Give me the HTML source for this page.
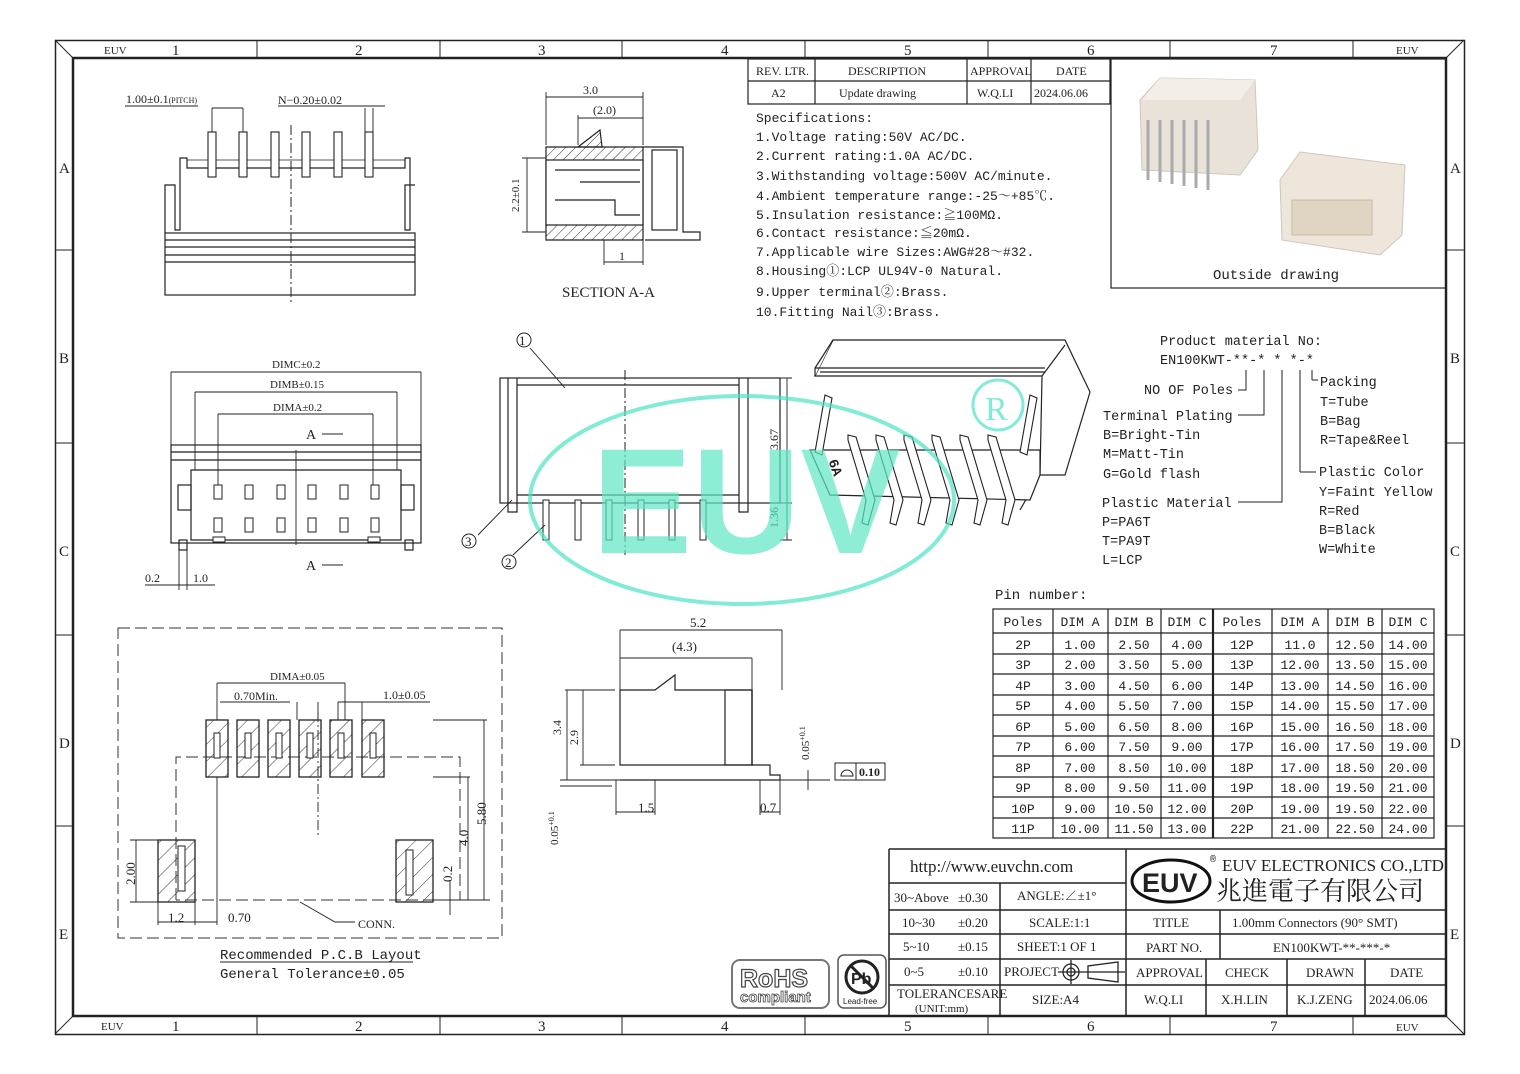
<!DOCTYPE html>
<html><head><meta charset="utf-8"><style>
html,body{margin:0;padding:0;background:#fff}
svg{display:block}
text{font-family:"Liberation Mono","Noto Serif CJK SC",monospace;fill:#222}
.s{font-family:"Liberation Serif","Noto Serif CJK SC",serif}
</style></head><body>
<svg width="1520" height="1074" viewBox="0 0 1520 1074" xmlns="http://www.w3.org/2000/svg">
<defs>
<pattern id="h" width="7" height="7" patternUnits="userSpaceOnUse" patternTransform="rotate(45)"><line x1="0" y1="0" x2="0" y2="7" stroke="#333" stroke-width="1"/></pattern>
<pattern id="h2" width="12" height="12" patternUnits="userSpaceOnUse" patternTransform="rotate(45)"><line x1="0" y1="0" x2="0" y2="12" stroke="#333" stroke-width="1"/></pattern>
</defs>
<rect width="1520" height="1074" fill="#fff"/>
<g fill="none" stroke="#222">
<rect x="55.5" y="40.5" width="1409" height="994" stroke-width="1.5"/>
<rect x="73" y="58" width="1373" height="958" stroke-width="2.5"/>
<line x1="55" y1="40" x2="73" y2="58"/><line x1="1464" y1="40" x2="1446" y2="58"/>
<line x1="55" y1="1034" x2="73" y2="1016"/><line x1="1464" y1="1034" x2="1446" y2="1016"/>
<path d="M257 40V58M440 40V58M622 40V58M805 40V58M988 40V58M1170 40V58M1353 40V58"/>
<path d="M257 1016V1034M440 1016V1034M622 1016V1034M805 1016V1034M988 1016V1034M1170 1016V1034M1353 1016V1034"/>
<path d="M55 250H73M55 443H73M55 635H73M55 826H73M1446 250H1464M1446 443H1464M1446 635H1464M1446 826H1464"/>
</g>
<g class="s" font-size="15">
<text x="172" y="55" class="s">1</text><text x="355" y="55" class="s">2</text><text x="538" y="55" class="s">3</text><text x="721" y="55" class="s">4</text><text x="904" y="55" class="s">5</text><text x="1087" y="55" class="s">6</text><text x="1270" y="55" class="s">7</text>
<text x="172" y="1031" class="s">1</text><text x="355" y="1031" class="s">2</text><text x="538" y="1031" class="s">3</text><text x="721" y="1031" class="s">4</text><text x="904" y="1031" class="s">5</text><text x="1087" y="1031" class="s">6</text><text x="1270" y="1031" class="s">7</text>
<text x="59" y="173" class="s">A</text><text x="59" y="363" class="s">B</text><text x="59" y="556" class="s">C</text><text x="59" y="748" class="s">D</text><text x="59" y="939" class="s">E</text>
<text x="1450" y="173" class="s">A</text><text x="1450" y="363" class="s">B</text><text x="1450" y="556" class="s">C</text><text x="1450" y="748" class="s">D</text><text x="1450" y="939" class="s">E</text>
</g>
<g font-size="11" class="s"><text x="104" y="54" class="s">EUV</text><text x="1396" y="54" class="s">EUV</text><text x="101" y="1030" class="s">EUV</text><text x="1396" y="1031" class="s">EUV</text></g>

<g fill="none" stroke="#222" stroke-width="1.2">
<rect x="748" y="59" width="362" height="45"/><line x1="748" y1="81" x2="1110" y2="81"/>
<line x1="815" y1="59" x2="815" y2="104"/><line x1="967" y1="59" x2="967" y2="104"/><line x1="1031" y1="59" x2="1031" y2="104"/>
<rect x="1111" y="59" width="335" height="229"/>
</g>
<g font-size="12" class="s">
<text x="756" y="75" class="s">REV. LTR.</text><text x="848" y="75" class="s">DESCRIPTION</text><text x="970" y="75" class="s">APPROVAL</text><text x="1056" y="75" class="s">DATE</text>
<text x="771" y="97" class="s">A2</text><text x="839" y="97" class="s">Update drawing</text><text x="977" y="97" class="s">W.Q.LI</text><text x="1034" y="97" class="s">2024.06.06</text>
</g>
<g font-size="13">
<text x="756" y="122">Specifications:</text>
<text x="756" y="141">1.Voltage rating:50V AC/DC.</text>
<text x="756" y="160">2.Current rating:1.0A AC/DC.</text>
<text x="756" y="180">3.Withstanding voltage:500V AC/minute.</text>
<text x="756" y="200">4.Ambient temperature range:-25～+85℃.</text>
<text x="756" y="219">5.Insulation resistance:≧100MΩ.</text>
<text x="756" y="237">6.Contact resistance:≦20mΩ.</text>
<text x="756" y="256">7.Applicable wire Sizes:AWG#28～#32.</text>
<text x="756" y="275">8.Housing①:LCP UL94V-0 Natural.</text>
<text x="756" y="296">9.Upper terminal②:Brass.</text>
<text x="756" y="316">10.Fitting Nail③:Brass.</text>
</g>
<g>
<path d="M1140 100 L1160 78 L1255 80 L1258 150 L1240 175 L1142 170 Z" fill="#e9e2d8" stroke="#cfc6ba"/>
<path d="M1160 78 L1255 80 L1240 100 L1142 100 Z" fill="#f3eee7"/>
<g stroke="#aaa" stroke-width="3"><path d="M1148 120V180M1160 120V182M1172 120V184M1184 120V186M1196 120V188M1208 120V190"/></g>
<path d="M1280 180 L1300 152 L1405 165 L1402 235 L1380 255 L1282 240 Z" fill="#eee6da" stroke="#cfc6ba"/>
<rect x="1292" y="200" width="80" height="35" fill="#e0d4c2" stroke="#c8bba8"/>
</g>
<text x="1213" y="279" font-size="14">Outside drawing</text>

<g fill="none" stroke="#222" stroke-width="1.2">
<rect x="165" y="233" width="250" height="62"/>
<path d="M165 240H415M165 247H415M165 255H415M165 262H415"/>
<path d="M165 233V185H175V230H180V158H187V168L405 168V158H410V230H405V185H415"/>
<path d="M187 160H405" stroke-width="0.8"/>
</g>
<g fill="#fff" stroke="#222" stroke-width="1.1">
<rect x="208" y="132" width="8" height="45"/><rect x="239" y="132" width="8" height="45"/><rect x="271" y="132" width="8" height="45"/><rect x="302" y="132" width="8" height="45"/><rect x="334" y="132" width="8" height="45"/><rect x="365" y="132" width="8" height="45"/>
</g>
<line x1="291" y1="125" x2="291" y2="305" stroke="#222" stroke-dasharray="10 3 2 3"/>
<g stroke="#222" stroke-width="0.9" fill="none"><path d="M125 106H198M212 108H243M212 108V132M243 108V132M278 106H385M365 108V132M373 108V132"/></g>
<text x="126" y="103" font-size="12" class="s">1.00±0.1<tspan font-size="8">(PITCH)</tspan></text>
<text x="278" y="104" font-size="12" class="s">N−0.20±0.02</text>

<g stroke="#222" stroke-width="1.2">
<path d="M546 147H643V240H546Z" fill="url(#h)"/>
<rect x="546" y="160" width="97" height="65" fill="#fff"/>
<path d="M578 147 L600 130 L602 147Z" fill="url(#h)"/>
<path d="M555 170H640M555 200H615V215H640M580 182H640" fill="none"/>
<path d="M643 147H683V232H700V240H645" fill="none"/>
<rect x="652" y="150" width="25" height="80" fill="#fff"/>
</g>
<g stroke="#222" stroke-width="0.9" fill="none">
<path d="M546 145V92M643 145V92M546 97H643M578 145V115M578 118H643M522 158H546M522 232H546M527 158V232M604 240V265M643 240V265M604 262H643"/>
</g>
<text x="583" y="94" font-size="12" class="s">3.0</text><text x="593" y="114" font-size="12" class="s">(2.0)</text>
<text x="519" y="212" font-size="11" class="s" transform="rotate(-90 519 212)">2.2±0.1</text>
<text x="619" y="260" font-size="12" class="s">1</text>
<text x="562" y="297" font-size="15" class="s">SECTION A-A</text>

<g fill="none" stroke="#222" stroke-width="1.2">
<rect x="171" y="445" width="250" height="98"/>
<path d="M171 452H421M171 460H421M191 470H401V540H191Z"/>
<rect x="178" y="485" width="13" height="25"/><rect x="401" y="485" width="13" height="25"/>
<rect x="179" y="540" width="8" height="10"/><rect x="405" y="540" width="8" height="10"/>
</g>
<g fill="#fff" stroke="#222" stroke-width="1">
<rect x="214" y="485" width="8" height="14"/><rect x="245" y="485" width="8" height="14"/><rect x="277" y="485" width="8" height="14"/><rect x="308" y="485" width="8" height="14"/><rect x="340" y="485" width="8" height="14"/><rect x="371" y="485" width="8" height="14"/>
<rect x="214" y="518" width="8" height="14"/><rect x="245" y="518" width="8" height="14"/><rect x="277" y="518" width="8" height="14"/><rect x="308" y="518" width="8" height="14"/><rect x="340" y="518" width="8" height="14"/><rect x="371" y="518" width="8" height="14"/>
<rect x="213" y="537" width="12" height="5"/><rect x="368" y="537" width="12" height="5"/>
</g>
<g stroke="#222" stroke-width="0.9" fill="none">
<path d="M171 372H421M171 372V445M421 372V445M195 392H397M195 392V470M397 392V470M218 414H373M218 414V485M373 414V485M296 450V545"/>
<path d="M322 434H343M322 565H343M145 585H215M179 550V590M187 550V590"/>
</g>
<text x="272" y="368" font-size="11" class="s">DIMC±0.2</text><text x="270" y="388" font-size="11" class="s">DIMB±0.15</text><text x="273" y="411" font-size="11" class="s">DIMA±0.2</text>
<text x="306" y="439" font-size="14" class="s">A</text><text x="306" y="570" font-size="14" class="s">A</text>
<text x="145" y="582" font-size="12" class="s">0.2</text><text x="193" y="582" font-size="12" class="s">1.0</text>

<g fill="none" stroke="#222" stroke-width="1.2">
<rect x="500" y="378" width="280" height="125"/>
<path d="M508 378V512H517V378M739 378V512H748V378M517 385H739M517 495H739"/>
</g>
<g fill="#fff" stroke="#222" stroke-width="1">
<rect x="543" y="500" width="6" height="40"/><rect x="575" y="500" width="6" height="40"/><rect x="606" y="500" width="6" height="40"/><rect x="638" y="500" width="6" height="40"/><rect x="669" y="500" width="6" height="40"/><rect x="700" y="500" width="6" height="40"/>
</g>
<line x1="625" y1="370" x2="625" y2="555" stroke="#222" stroke-dasharray="10 3 2 3"/>
<g stroke="#222" stroke-width="0.9" fill="none">
<path d="M780 378H792M780 503H792M780 540H792M787 378V540M530 348L565 388M478 535L512 500M513 555L545 525"/>
</g>
<text x="778" y="450" font-size="12" class="s" transform="rotate(-90 778 450)">3.67</text>
<text x="778" y="528" font-size="12" class="s" transform="rotate(-90 778 528)">1.36</text>
<g font-size="13" class="s"><circle cx="524" cy="340" r="7" fill="none" stroke="#222"/><text x="519" y="345" class="s">1</text>
<circle cx="469" cy="541" r="7" fill="none" stroke="#222"/><text x="465" y="546" class="s">3</text>
<circle cx="509" cy="562" r="7" fill="none" stroke="#222"/><text x="505" y="567" class="s">2</text></g>

<g fill="#fff" stroke="#222" stroke-width="1.2">
<path d="M833 340 L1065 340 L1090 392 L1065 475 L1040 475 L1042 376 L815 376 Z"/>
<path d="M815 376V368L833 340M815 368H1045M820 372H1045"/>
<path d="M1042 376 L1065 345 M1040 475 L1020 510"/>
<path d="M810 450 L1040 450 L1040 475 L1030 500 L830 495 Z"/>
</g>
<g fill="#fff" stroke="#222" stroke-width="1.1">
<path d="M825 395 L832 398 L822 455 L815 452Z"/><path d="M1030 395 L1037 398 L1027 455 L1020 452Z"/>
<path d="M848 435 L856 437 L875 500 L868 525 L862 523 L866 500 L848 440Z"/>
<path d="M876 435 L884 437 L903 500 L896 525 L890 523 L894 500 L876 440Z"/>
<path d="M904 435 L912 437 L931 500 L924 525 L918 523 L922 500 L904 440Z"/>
<path d="M932 435 L940 437 L959 500 L952 525 L946 523 L950 500 L932 440Z"/>
<path d="M960 435 L968 437 L987 500 L980 525 L974 523 L978 500 L960 440Z"/>
<path d="M988 435 L996 437 L1015 500 L1008 525 L1002 523 L1006 500 L988 440Z"/>
</g>
<text x="829" y="470" font-size="14" font-weight="bold" transform="rotate(70 835 465)">6A</text>

<g font-size="13.5">
<text x="1160" y="345">Product material No:</text>
<text x="1160" y="364">EN100KWT-**-* * *-*</text>
<text x="1144" y="394">NO OF Poles</text>
<text x="1103" y="420">Terminal Plating</text>
<text x="1103" y="439">B=Bright-Tin</text><text x="1103" y="458">M=Matt-Tin</text><text x="1103" y="478">G=Gold flash</text>
<text x="1102" y="507">Plastic Material</text>
<text x="1102" y="526">P=PA6T</text><text x="1102" y="545">T=PA9T</text><text x="1102" y="564">L=LCP</text>
<text x="1320" y="386">Packing</text><text x="1320" y="406">T=Tube</text><text x="1320" y="425">B=Bag</text><text x="1320" y="444">R=Tape&amp;Reel</text>
<text x="1319" y="476">Plastic Color</text><text x="1319" y="496">Y=Faint Yellow</text><text x="1319" y="515">R=Red</text><text x="1319" y="534">B=Black</text><text x="1319" y="553">W=White</text>
</g>
<g fill="none" stroke="#222" stroke-width="1">
<path d="M1238 390H1246V370M1238 415H1264V370M1238 502H1282V370M1300 472V370M1300 472H1316M1312 380V370M1312 380H1318"/>
</g>

<text x="995" y="599" font-size="14">Pin number:</text>
<g fill="none" stroke="#222" stroke-width="1.2">
<rect x="993" y="609" width="441" height="229"/>
<path d="M1053 609V838M1108 609V838M1161 609V838M1272 609V838M1328 609V838M1382 609V838"/>
<path d="M1213 609V838" stroke-width="2.2"/>
<path d="M993 633H1434M993 654H1434M993 674H1434M993 695H1434M993 715H1434M993 736H1434M993 756H1434M993 777H1434M993 797H1434M993 818H1434"/>
</g>
<g font-size="13" text-anchor="middle">
<text x="1023" y="626">Poles</text><text x="1080" y="626">DIM A</text><text x="1134" y="626">DIM B</text><text x="1187" y="626">DIM C</text><text x="1242" y="626">Poles</text><text x="1300" y="626">DIM A</text><text x="1355" y="626">DIM B</text><text x="1408" y="626">DIM C</text>
<text x="1023" y="649">2P</text><text x="1080" y="649">1.00</text><text x="1134" y="649">2.50</text><text x="1187" y="649">4.00</text><text x="1242" y="649">12P</text><text x="1300" y="649">11.0</text><text x="1355" y="649">12.50</text><text x="1408" y="649">14.00</text>
<text x="1023" y="669">3P</text><text x="1080" y="669">2.00</text><text x="1134" y="669">3.50</text><text x="1187" y="669">5.00</text><text x="1242" y="669">13P</text><text x="1300" y="669">12.00</text><text x="1355" y="669">13.50</text><text x="1408" y="669">15.00</text>
<text x="1023" y="690">4P</text><text x="1080" y="690">3.00</text><text x="1134" y="690">4.50</text><text x="1187" y="690">6.00</text><text x="1242" y="690">14P</text><text x="1300" y="690">13.00</text><text x="1355" y="690">14.50</text><text x="1408" y="690">16.00</text>
<text x="1023" y="710">5P</text><text x="1080" y="710">4.00</text><text x="1134" y="710">5.50</text><text x="1187" y="710">7.00</text><text x="1242" y="710">15P</text><text x="1300" y="710">14.00</text><text x="1355" y="710">15.50</text><text x="1408" y="710">17.00</text>
<text x="1023" y="731">6P</text><text x="1080" y="731">5.00</text><text x="1134" y="731">6.50</text><text x="1187" y="731">8.00</text><text x="1242" y="731">16P</text><text x="1300" y="731">15.00</text><text x="1355" y="731">16.50</text><text x="1408" y="731">18.00</text>
<text x="1023" y="751">7P</text><text x="1080" y="751">6.00</text><text x="1134" y="751">7.50</text><text x="1187" y="751">9.00</text><text x="1242" y="751">17P</text><text x="1300" y="751">16.00</text><text x="1355" y="751">17.50</text><text x="1408" y="751">19.00</text>
<text x="1023" y="772">8P</text><text x="1080" y="772">7.00</text><text x="1134" y="772">8.50</text><text x="1187" y="772">10.00</text><text x="1242" y="772">18P</text><text x="1300" y="772">17.00</text><text x="1355" y="772">18.50</text><text x="1408" y="772">20.00</text>
<text x="1023" y="792">9P</text><text x="1080" y="792">8.00</text><text x="1134" y="792">9.50</text><text x="1187" y="792">11.00</text><text x="1242" y="792">19P</text><text x="1300" y="792">18.00</text><text x="1355" y="792">19.50</text><text x="1408" y="792">21.00</text>
<text x="1023" y="813">10P</text><text x="1080" y="813">9.00</text><text x="1134" y="813">10.50</text><text x="1187" y="813">12.00</text><text x="1242" y="813">20P</text><text x="1300" y="813">19.00</text><text x="1355" y="813">19.50</text><text x="1408" y="813">22.00</text>
<text x="1023" y="833">11P</text><text x="1080" y="833">10.00</text><text x="1134" y="833">11.50</text><text x="1187" y="833">13.00</text><text x="1242" y="833">22P</text><text x="1300" y="833">21.00</text><text x="1355" y="833">22.50</text><text x="1408" y="833">24.00</text>
</g>

<g fill="none" stroke="#333" stroke-width="1" stroke-dasharray="12 5">
<rect x="118" y="628" width="384" height="310"/>
<path d="M176 900V757H460V900H176"/>
<path d="M318 712V835" stroke-dasharray="10 3 2 3"/>
</g>
<g stroke="#222" stroke-width="1.3">
<rect x="206" y="720" width="22" height="57" fill="url(#h2)"/><rect x="237" y="720" width="22" height="57" fill="url(#h2)"/><rect x="268" y="720" width="22" height="57" fill="url(#h2)"/><rect x="299" y="720" width="22" height="57" fill="url(#h2)"/><rect x="330" y="720" width="22" height="57" fill="url(#h2)"/><rect x="362" y="720" width="22" height="57" fill="url(#h2)"/>
<rect x="158" y="840" width="37" height="62" fill="url(#h2)"/><rect x="396" y="840" width="37" height="62" fill="url(#h2)"/>
</g>
<g fill="#fff" stroke="#222" stroke-width="1">
<rect x="214" y="733" width="6" height="25"/><rect x="245" y="733" width="6" height="25"/><rect x="276" y="733" width="6" height="25"/><rect x="307" y="733" width="6" height="25"/><rect x="338" y="733" width="6" height="25"/><rect x="370" y="733" width="6" height="25"/>
<rect x="178" y="846" width="7" height="45"/><rect x="406" y="850" width="7" height="45"/>
</g>
<g stroke="#222" stroke-width="0.9" fill="none">
<path d="M217 683H345M217 683V720M345 683V720M220 702H290M297 702V720M318 702V720M338 702H430M338 702V720M362 702V720"/>
<path d="M433 720H487M433 777H470M468 777V900M484 720V900M433 900H490M450 880V915"/>
<path d="M130 840H158M130 902H158M136 840V902M158 902V925M195 902V925M217 777V925M158 922H217"/>
<path d="M300 902L335 922H355"/>
</g>
<text x="270" y="680" font-size="11" class="s">DIMA±0.05</text>
<text x="234" y="700" font-size="12" class="s">0.70Min.</text><text x="383" y="699" font-size="12" class="s">1.0±0.05</text>
<text x="486" y="825" font-size="13" class="s" transform="rotate(-90 486 825)">5.80</text>
<text x="468" y="846" font-size="13" class="s" transform="rotate(-90 468 846)">4.0</text>
<text x="452" y="882" font-size="13" class="s" transform="rotate(-90 452 882)">0.2</text>
<text x="135" y="885" font-size="13" class="s" transform="rotate(-90 135 885)">2.00</text>
<text x="168" y="922" font-size="13" class="s">1.2</text><text x="228" y="922" font-size="13" class="s">0.70</text>
<text x="358" y="928" font-size="12" class="s">CONN.</text>
<text x="220" y="959" font-size="14">Recommended P.C.B Layout</text>
<line x1="220" y1="962" x2="413" y2="962" stroke="#222"/>
<text x="220" y="978" font-size="14">General Tolerance±0.05</text>

<g fill="none" stroke="#222" stroke-width="1.2">
<path d="M620 690H655L675 675V690H752V765H620Z"/>
<path d="M752 690V765H770V775H780V780H620"/>
<rect x="725" y="690" width="27" height="75"/>
</g>
<g stroke="#222" stroke-width="0.9" fill="none">
<path d="M620 630H782M620 650V690M620 630V690M782 630V690M620 658H752M752 658V690"/>
<path d="M565 690H615M580 765H615M567 690V780M583 690V765M560 780H830M560 786H612M616 780V815M655 780V815M616 812H655M760 780V815M780 780V815M760 812H780M808 770V790"/>
</g>
<text x="690" y="627" font-size="13" class="s">5.2</text><text x="672" y="651" font-size="13" class="s">(4.3)</text>
<text x="561" y="735" font-size="12" class="s" transform="rotate(-90 561 735)">3.4</text>
<text x="578" y="745" font-size="12" class="s" transform="rotate(-90 578 745)">2.9</text>
<text x="638" y="812" font-size="13" class="s">1.5</text><text x="760" y="812" font-size="13" class="s">0.7</text>
<text x="809" y="760" font-size="11" class="s" transform="rotate(-90 809 760)">0.05<tspan font-size="8" dy="-4">+0.1</tspan></text>
<text x="558" y="845" font-size="11" class="s" transform="rotate(-90 558 845)">0.05<tspan font-size="8" dy="-4">+0.1</tspan></text>
<rect x="835" y="763" width="50" height="17" fill="none" stroke="#222"/>
<line x1="856" y1="763" x2="856" y2="780" stroke="#222"/>
<path d="M841 776 A6 6 0 0 1 853 776 Z" fill="none" stroke="#222"/>
<text x="859" y="776" font-size="12" font-weight="bold" class="s">0.10</text>

<rect x="732" y="960" width="97" height="48" rx="8" fill="#fff" stroke="#777" stroke-width="2"/>
<text x="740" y="987" font-size="25" font-weight="bold" fill="#fff" stroke="#444" stroke-width="1.2" style="font-family:'Liberation Sans',sans-serif;fill:#fff">RoHS</text>
<text x="740" y="1002" font-size="15" font-weight="bold" fill="#fff" stroke="#444" stroke-width="0.8" style="font-family:'Liberation Sans',sans-serif;fill:#fff">compliant</text>
<rect x="838" y="955" width="48" height="53" rx="6" fill="#fff" stroke="#555" stroke-width="1.5"/>
<circle cx="862" cy="977" r="16" fill="none" stroke="#222" stroke-width="3"/>
<text x="851" y="984" font-size="16" font-weight="bold" style="font-family:'Liberation Sans',sans-serif">Pb</text>
<line x1="851" y1="966" x2="873" y2="988" stroke="#222" stroke-width="3"/>
<text x="843" y="1004" font-size="8" style="font-family:'Liberation Sans',sans-serif">Lead-free</text>

<g fill="none" stroke="#222" stroke-width="1.5">
<path d="M889 849H1446M889 849V1016M1126 849V1016M889 883H1126M889 910H1446M889 934H1446M889 959H1446M889 985H1446"/>
<path d="M1000 883V1016M1220 910V959M1206 959V1016M1287 959V1016M1365 959V1016"/>
</g>
<g font-size="13" class="s">
<text x="910" y="872" font-size="17" class="s">http://www.euvchn.com</text>
<text x="894" y="902" class="s">30~Above</text><text x="958" y="902" class="s">±0.30</text><text x="1017" y="900" class="s">ANGLE:∠±1°</text>
<text x="902" y="927" class="s">10~30</text><text x="958" y="927" class="s">±0.20</text><text x="1029" y="927" class="s">SCALE:1:1</text>
<text x="903" y="951" class="s">5~10</text><text x="958" y="951" class="s">±0.15</text><text x="1017" y="951" class="s">SHEET:1 OF 1</text>
<text x="904" y="976" class="s">0~5</text><text x="958" y="976" class="s">±0.10</text><text x="1004" y="976" class="s">PROJECT</text>
<text x="897" y="998" class="s">TOLERANCESARE</text><text x="915" y="1012" font-size="11" class="s">(UNIT:mm)</text>
<text x="1032" y="1004" class="s">SIZE:A4</text>
<text x="1153" y="927" class="s">TITLE</text><text x="1232" y="927" class="s">1.00mm Connectors (90° SMT)</text>
<text x="1146" y="952" class="s">PART NO.</text><text x="1273" y="952" class="s">EN100KWT-**-***-*</text>
<text x="1136" y="977" class="s">APPROVAL</text><text x="1225" y="977" class="s">CHECK</text><text x="1306" y="977" class="s">DRAWN</text><text x="1390" y="977" class="s">DATE</text>
<text x="1144" y="1004" class="s">W.Q.LI</text><text x="1221" y="1004" class="s">X.H.LIN</text><text x="1297" y="1004" class="s">K.J.ZENG</text><text x="1369" y="1004" class="s">2024.06.06</text>
</g>
<g fill="none" stroke="#222" stroke-width="1.3">
<circle cx="1071" cy="972" r="8"/><circle cx="1071" cy="972" r="4"/><path d="M1058 972H1125M1071 960V984M1088 966V978L1118 982V962Z"/>
</g>
<ellipse cx="1171" cy="881" rx="39" ry="21" fill="none" stroke="#111" stroke-width="3"/>
<text x="1142" y="892" font-size="27" font-weight="bold" style="font-family:'Liberation Sans',sans-serif">EUV</text>
<text x="1210" y="862" font-size="10">®</text>
<text x="1222" y="871" font-size="17" class="s">EUV ELECTRONICS CO.,LTD</text>
<text x="1216" y="900" font-size="26" style="font-family:'Noto Serif CJK SC','Noto Sans CJK SC',serif">兆進電子有限公司</text>

<g opacity="0.7">
<ellipse cx="742" cy="500" rx="212" ry="104" fill="none" stroke="#4de3c6" stroke-width="4"/>
<text x="592" y="553" font-size="150" font-weight="bold" style="font-family:'Liberation Sans',sans-serif;fill:#5fe6c4">EUV</text>
<circle cx="998" cy="405" r="25" fill="none" stroke="#4de3c6" stroke-width="3"/>
<text x="985" y="420" font-size="34" style="font-family:'Liberation Serif',serif;fill:#4de3c6">R</text>
</g>
</svg>
</body></html>
